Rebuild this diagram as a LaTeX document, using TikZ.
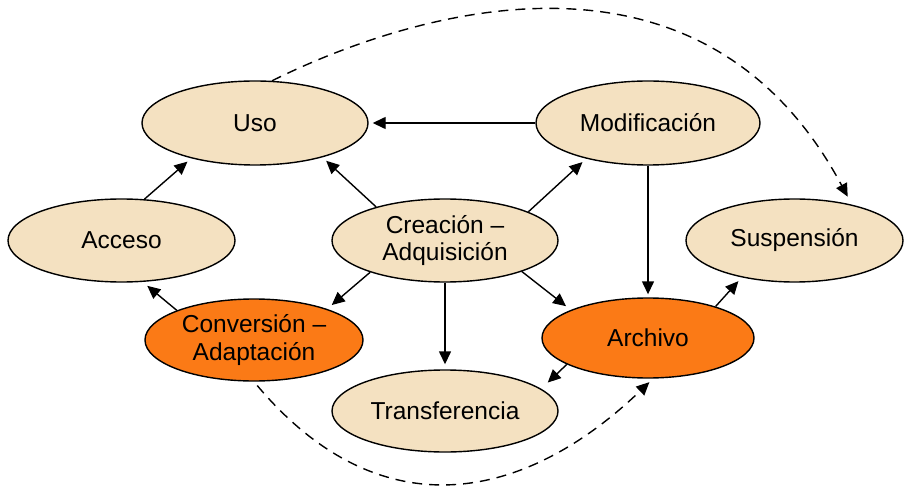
\documentclass[tikz,border=0pt]{standalone}
\usepackage{fontspec}
\setmainfont{Liberation Sans}
\usetikzlibrary{shapes.geometric,arrows.meta}
\definecolor{beige}{HTML}{F4E1C1}
\definecolor{orng}{HTML}{FB7A16}
\begin{document}
\begin{tikzpicture}[x=1pt,y=-1pt,
  ell/.style={ellipse,draw=black,line width=1.4pt,fill=beige,inner sep=0pt,align=center,
    font=\fontsize{24.5}{27.5}\selectfont},
  hot/.style={ell,fill=orng},
  arr/.style={-{Triangle[length=13pt,width=12pt]},line width=1.4pt,shorten >=5pt},
  dasharr/.style={arr,dash pattern=on 10pt off 7pt}]
\useasboundingbox (0,0) rectangle (904,486);
\node[ell,minimum width=226pt,minimum height=84pt] (uso) at (255,123) {Uso};
\node[ell,minimum width=224pt,minimum height=84pt] (mod) at (648,123) {Modificación};
\node[ell,minimum width=227pt,minimum height=83pt] (acc) at (121.5,240.5) {Acceso};
\node[ell,minimum width=226pt,minimum height=83pt] (cre) at (445,240.5) {Creación –\\Adquisición};
\node[ell,minimum width=217pt,minimum height=83pt] (sus) at (794.5,240.5) {Suspensión};
\node[hot,minimum width=218pt,minimum height=82pt] (con) at (254,340) {Conversión –\\Adaptación};
\node[hot,minimum width=212pt,minimum height=80pt] (arc) at (648,338) {Archivo};
\node[ell,minimum width=226pt,minimum height=82pt] (tra) at (445,411) {Transferencia};
% connectors
\draw[arr,shorten >=4pt] (mod.west) -- (uso.east);
\draw[arr] (acc.61) -- (uso.209);
\draw[arr] (cre.154) -- (uso.333);
\draw[arr] (cre.19) -- (mod.210);
\draw[arr,shorten >=6pt] (cre.203) -- (con.23);
\draw[arr] (cre.south) -- (tra.north);
\draw[arr,shorten >=6pt] (cre.338) -- (arc.160);
\draw[arr,shorten >=3pt] (mod.south) -- (arc.north);
\draw[arr] (arc.25) -- (sus.215);
\draw[arr,shorten >=9pt] (arc.198) -- (tra.13);
\draw[arr,shorten >=6pt] (con.159) -- (acc.297);
% dashed curves
\draw[dasharr,shorten >=9pt] (uso.68) .. controls (370,32) and (690,-98) .. (sus.32);
\draw[dasharr,shorten <=5pt,shorten >=5pt] (con.south) .. controls (377.5,528.5) and (520.6,505.6) .. (arc.277);
\end{tikzpicture}
\end{document}
